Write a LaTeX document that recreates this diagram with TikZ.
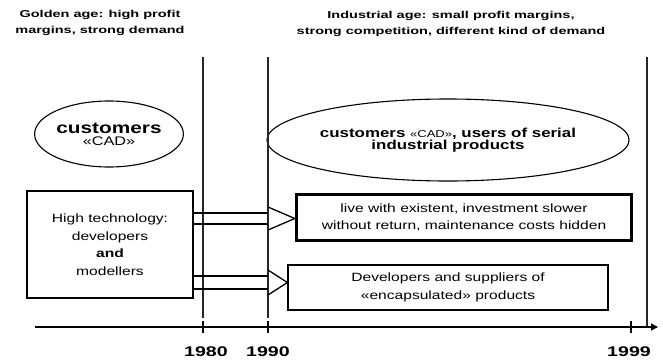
\documentclass[tikz,border=0pt]{standalone}
\usepackage{fontspec}
\setmainfont{Liberation Sans}[FakeStretch=1.3]
\newfontfamily\hfont{Liberation Sans}[FakeStretch=1.45]
\newfontfamily\yfont{Liberation Sans}[FakeStretch=1.4]
\usetikzlibrary{shapes.geometric,arrows.meta}
\tikzset{
  heading/.style={align=center,inner sep=0pt,font=\hfont\bfseries\fontsize{10}{16}\selectfont},
  oval/.style={draw,ellipse,line width=1.1pt,inner sep=0pt,align=center},
  panel/.style={draw,rectangle,line width=1.2pt,inner sep=0pt,align=center,font=\fontsize{12}{17.5}\selectfont},
  era/.style={line width=1.6pt,draw=black!85},
  shaft/.style={line width=1.3pt},
  year/.style={inner sep=0pt,font=\yfont\bfseries\fontsize{14}{14}\selectfont}
}
\begin{document}
\begin{tikzpicture}[x=1pt,y=-1pt]
\useasboundingbox (0,0) rectangle (663,359);
% headings
\node[heading] (h1) at (100,23) {Golden age: high profit\\margins, strong demand};
\node[heading] (h2) at (451,24) {Industrial age: small profit margins,\\strong competition, different kind of demand};
% ellipses
\node[oval,minimum width=134pt,minimum height=66pt] (e1) at (109,134)
  {{\bfseries\fontsize{16}{18}\selectfont customers}\\{\fontsize{12.5}{14}\selectfont «CAD»}};
\node[oval,minimum width=327pt,minimum height=82pt] (e2) at (448,140)
  {\bfseries\fontsize{13}{16.5}\selectfont customers {\mdseries\fontsize{10}{12}\selectfont «CAD»}, users of serial\\\bfseries\fontsize{13}{16.5}\selectfont industrial products};
% boxes
\node[panel,minimum width=166pt,minimum height=107pt] (hi) at (110,244.5)
  {High technology:\\developers\\\textbf{and}\\modellers};
\node[panel,line width=3.5pt,minimum width=335pt,minimum height=46pt] (top) at (464,217.5)
  {live with existent, investment slower\\without return, maintenance costs hidden};
\node[panel,minimum width=320pt,minimum height=45pt] (bot) at (448,287.5)
  {Developers and suppliers of\\«encapsulated» products};
% era lines and axis
\coordinate (a0) at (35,327);
\coordinate (a1) at (658,327);
\coordinate (t80) at (203,57);
\coordinate (t90) at (268,57);
\coordinate (t99) at (647,57);
\draw[era] (t80) -- (203,318);
\draw[era] (t90) -- (268,318);
\draw[era] (t99) -- (647,327);
\draw[line width=1.3pt,-{Triangle[length=7pt,width=7pt]}] (a0) -- (a1);
\draw[line width=1.3pt] (203,321) -- (203,333);
\draw[line width=1.3pt] (268,321) -- (268,333);
\draw[line width=1.3pt] (631,321) -- (631,333);
% years
\node[year] (y80) at (206,352) {1980};
\node[year] (y90) at (268,352) {1990};
\node[year] (y99) at (629,352) {1999};
% double arrows
\coordinate (p1) at (268,213);
\coordinate (p2) at (268,224);
\draw[shaft] (hi.east |- p1) -- (p1);
\draw[shaft] (hi.east |- p2) -- (p2);
\draw[shaft,line join=miter] (268,207) -- (top.west |- 0,218.5) -- (268,230);
\coordinate (q1) at (268,276);
\coordinate (q2) at (268,289);
\draw[shaft] (hi.east |- q1) -- (q1);
\draw[shaft] (hi.east |- q2) -- (q2);
\draw[shaft,line join=miter] (268,270) -- (bot.west |- 0,282.5) -- (268,295);
\end{tikzpicture}
\end{document}
